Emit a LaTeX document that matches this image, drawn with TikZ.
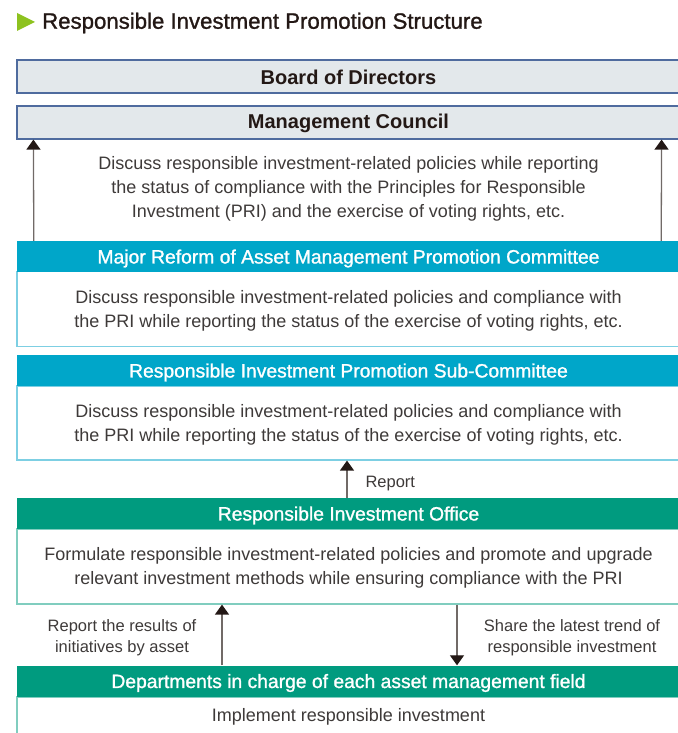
\documentclass[tikz,border=0pt]{standalone}
\usepackage{fontspec}
\setmainfont{Liberation Sans}
\newfontfamily\medfont[FakeBold=1.2]{Liberation Sans}
\usetikzlibrary{positioning}
\usetikzlibrary{arrows.meta}

\definecolor{boardfill}{HTML}{E3E8EB}
\definecolor{boardline}{HTML}{4F6B9E}
\definecolor{prcyan}{HTML}{00A6C9}
\definecolor{prcyanlight}{HTML}{7DCFE3}
\definecolor{prgreen}{HTML}{009B7F}
\definecolor{prgreenlight}{HTML}{80CDBF}
\definecolor{prtext}{HTML}{3E3A39}
\definecolor{prhead}{HTML}{231815}
\definecolor{prarrow}{HTML}{716A67}
\definecolor{prlime}{HTML}{8DC21F}

\begin{document}
\begin{tikzpicture}[x=1pt, y=-1pt,
  board/.style={draw=boardline, line width=1.2pt, fill=boardfill, minimum width=663pt, minimum height=33pt, inner sep=0pt, font=\fontsize{20}{24}\selectfont\bfseries, text=prhead},
  head/.style={minimum width=663pt, minimum height=31pt, inner sep=0pt, font=\fontsize{19.3}{22}\selectfont\medfont, text=white},
  headtext/.style={font=\fontsize{19.3}{22}\selectfont\medfont, text=white, inner sep=0pt, yshift=-2pt},
  body/.style={draw, line width=1.2pt, fill=white, minimum width=663pt, inner sep=0pt},
  txt/.style={font=\fontsize{18}{24}\selectfont, text=prtext, align=center, yshift=-1.5pt},
  lbl/.style={font=\fontsize{16.5}{21}\selectfont, text=prtext, align=center, yshift=-3pt},
  up/.style={draw=prarrow, line width=1.3pt, -{Triangle[width=14pt,length=10pt,color=prhead]}}
]
\useasboundingbox (0,0) rectangle (677,733);

% title
\fill[prlime] (17,13) -- (35,22) -- (17,31) -- cycle;
\node[anchor=west, inner sep=0pt, font=\fontsize{22.2}{26}\selectfont\medfont, text=prhead] (title) at (42,23) {Responsible Investment Promotion Structure};

% top bodies
\node[board] (board) at (348.5,76.5) {};
\node[headtext, text=prhead, font=\fontsize{20}{24}\selectfont\bfseries, yshift=1pt] (boardtext) at (board) {Board of Directors};
\node[board] (mgmt) at (348.5,122.5) {};
\node[headtext, text=prhead, font=\fontsize{20}{24}\selectfont\bfseries, yshift=1pt] (mgmttext) at (mgmt) {Management Council};
\node[txt] (mgmtnote) at (348.5,187) {Discuss responsible investment-related policies while reporting\\the status of compliance with the Principles for Responsible\\Investment (PRI) and the exercise of voting rights, etc.};

% committee
\node[body, draw=prcyanlight, minimum height=75pt] (combody) at (348.5,309) {};
\node[txt] (comtext) at (combody) {Discuss responsible investment-related policies and compliance with\\the PRI while reporting the status of the exercise of voting rights, etc.};
\node[head, fill=prcyan] (com) at (348.5,256.5) {};
\node[headtext] (comlabel) at (com) {Major Reform of Asset Management Promotion Committee};

% sub-committee
\node[body, draw=prcyanlight, minimum height=74pt] (subbody) at (348.5,423) {};
\node[txt] (subtext) at (subbody) {Discuss responsible investment-related policies and compliance with\\the PRI while reporting the status of the exercise of voting rights, etc.};
\node[head, fill=prcyan] (sub) at (348.5,370.5) {};
\node[headtext] (sublabel) at (sub) {Responsible Investment Promotion Sub-Committee};

% office
\node[body, draw=prgreenlight, minimum height=75pt] (offbody) at (348.5,566.5) {};
\node[txt] (offtext) at (offbody) {Formulate responsible investment-related policies and promote and upgrade\\relevant investment methods while ensuring compliance with the PRI};
\node[head, fill=prgreen] (office) at (348.5,513.5) {};
\node[headtext] (offlabel) at (office) {Responsible Investment Office};

% departments
\node[body, draw=prgreenlight, minimum height=48pt] (deptbody) at (348.5,721) {};
\node[txt] (depttext) at (348.5,715) {Implement responsible investment};
\node[head, fill=prgreen] (dept) at (348.5,681) {};
\node[headtext] (deptlabel) at (dept) {Departments in charge of each asset management field};

% arrows
\draw[up] ([xshift=17pt]com.north west) -- ([xshift=17pt]mgmt.south west);
\draw[up] ([xshift=-19pt]com.north east) -- ([xshift=-19pt]mgmt.south east);
\draw[up] ([xshift=-1.5pt]office.north) -- ([xshift=-1.5pt]subbody.south);
\draw[up] ([xshift=-126.5pt]dept.north) -- ([xshift=-126.5pt]offbody.south);
\draw[up] ([xshift=108.5pt]offbody.south) -- ([xshift=108.5pt]dept.north);

\node[lbl, anchor=west] (report) at (362,481) {Report};
\node[lbl] (results) at (122,635) {Report the results of\\initiatives by asset};
\node[lbl] (trend) at (572,635) {Share the latest trend of\\responsible investment};

\end{tikzpicture}
\end{document}
